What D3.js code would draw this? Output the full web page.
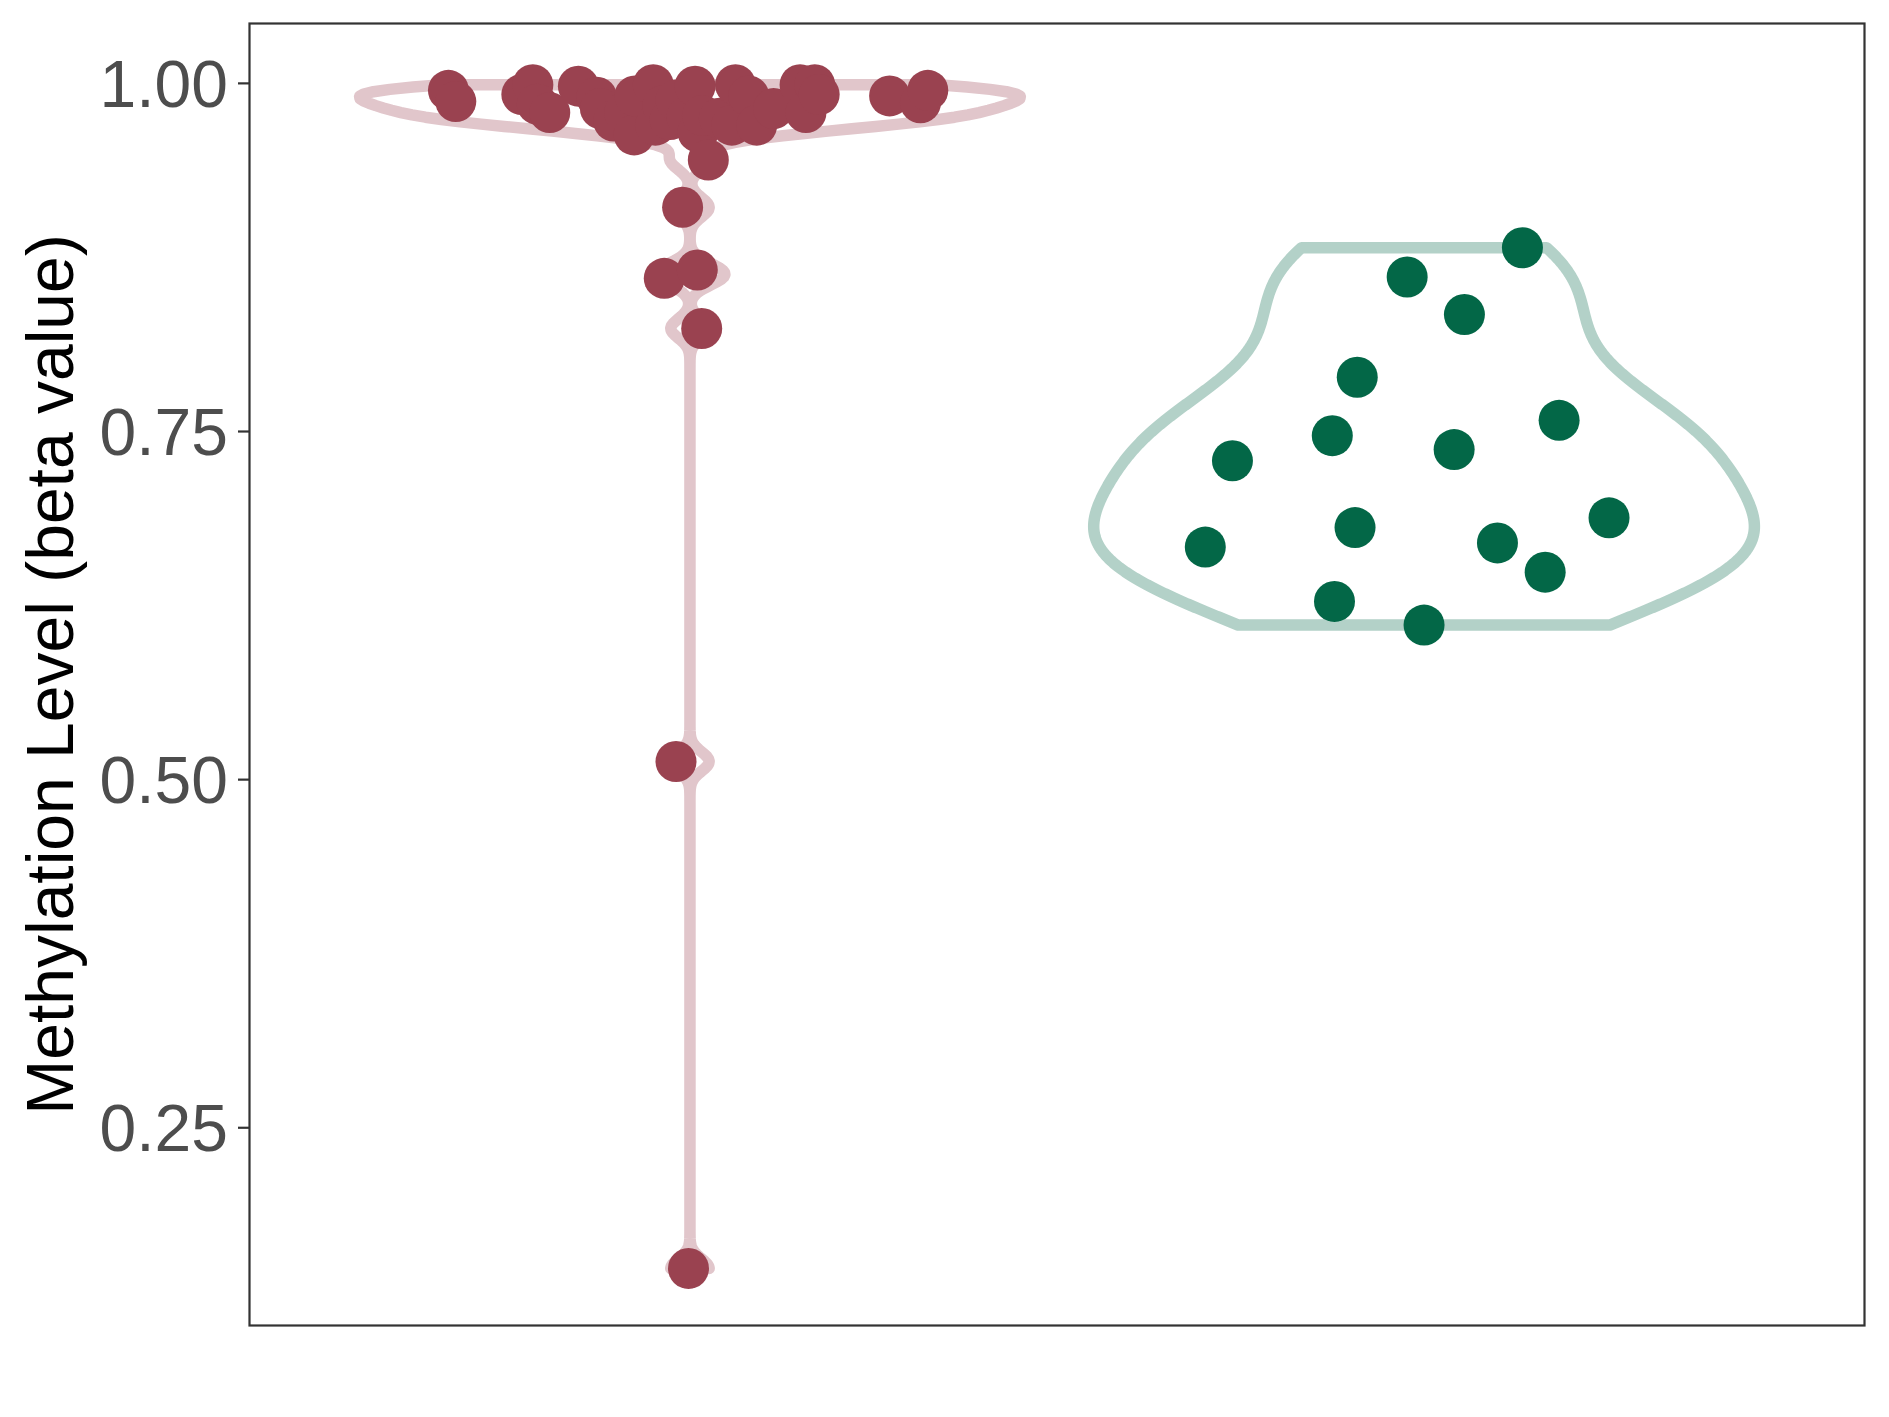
<!DOCTYPE html>
<html><head><meta charset="utf-8">
<script src="https://cdn.jsdelivr.net/npm/d3@7"></script>
<style>body{margin:0;background:#fff}</style>
</head><body>
<svg id="chart" width="1889" height="1417"></svg>
<script>
const groups = ["Group 1", "Group 2"];
const pointColors = ["#9A4250", "#036747"];
const outlineColors = ["#E1C6CB", "#B3D1C8"];
const group1Values = [0.995,0.987,0.992,0.999,0.985,0.979,0.998,0.990,0.982,0.973,0.979,0.963,0.991,0.999,0.970,0.984,0.974,0.988,0.976,0.998,0.965,0.977,0.945,0.975,0.999,0.970,0.991,0.970,0.982,0.999,0.979,0.999,0.992,0.991,0.986,0.995,0.911,0.860,0.866,0.824,0.513,0.149];
const group1Jitter = [-0.329,-0.319,-0.229,-0.214,-0.208,-0.191,-0.152,-0.127,-0.122,-0.104,-0.089,-0.076,-0.075,-0.050,-0.047,-0.037,-0.027,-0.019,-0.004,0.007,0.011,0.017,0.025,0.040,0.062,0.057,0.080,0.091,0.114,0.150,0.158,0.170,0.176,0.272,0.314,0.324,-0.010,-0.035,0.010,0.016,-0.019,-0.002];
const group2Values = [0.882,0.861,0.834,0.789,0.758,0.747,0.729,0.737,0.688,0.681,0.667,0.670,0.649,0.628,0.611];
const group2Jitter = [0.134,-0.023,0.055,-0.091,0.184,-0.125,-0.261,0.041,0.252,-0.094,-0.298,0.100,0.165,-0.122,0.000];
const yTicks = [0.25, 0.50, 0.75, 1.00];
const yTickLabels = ["0.25", "0.50", "0.75", "1.00"];
const yTitle = "Methylation Level (beta value)";
const yDomain = [0.108, 1.043];

const panel = {left: 249.5, right: 1864.5, top: 23.5, bottom: 1325.5};
const svg = d3.select("#chart");
const font = "'Liberation Sans', Arial, Helvetica, sans-serif";

const x = d3.scalePoint().domain(groups).range([panel.left, panel.right]).padding(0.6);
const y = d3.scaleLinear().domain(yDomain).range([panel.bottom, panel.top]);
const step = x.step();

function q7(s, p) { const h = (s.length - 1) * p, lo = Math.floor(h); const hi = Math.min(lo + 1, s.length - 1); return s[lo] + (h - lo) * (s[hi] - s[lo]); }
function bwNrd0(v) {
  const s = v.slice().sort(d3.ascending);
  const sd = d3.deviation(v);
  const iqr = q7(s, 0.75) - q7(s, 0.25);
  let lo = Math.min(sd, iqr / 1.34);
  if (!lo) lo = sd || Math.abs(s[0]) || 1;
  return 0.9 * lo * Math.pow(v.length, -0.2);
}
function density(v) {
  const bw = bwNrd0(v);
  const [mn, mx] = d3.extent(v);
  const n = 512, pts = [];
  for (let i = 0; i < n; i++) {
    const t = mn + (mx - mn) * i / (n - 1);
    let d = 0;
    for (const val of v) { const z = (t - val) / bw; d += Math.exp(-0.5 * z * z); }
    pts.push([t, d]);
  }
  const m = d3.max(pts, p => p[1]);
  return pts.map(p => [p[0], p[1] / m]);
}

const data = [
  {g: groups[0], values: group1Values, jitter: group1Jitter, color: pointColors[0], outline: outlineColors[0]},
  {g: groups[1], values: group2Values, jitter: group2Jitter, color: pointColors[1], outline: outlineColors[1]}
];

const line = d3.line();
const halfW = 0.45 * step;
data.forEach(d => {
  const cx = x(d.g);
  const dens = density(d.values);
  const right = dens.map(p => [cx + p[1] * halfW, y(p[0])]);
  const left = dens.slice().reverse().map(p => [cx - p[1] * halfW, y(p[0])]);
  svg.append("path")
    .attr("d", line(right.concat(left)) + "Z")
    .attr("fill", "#ffffff")
    .attr("stroke", d.outline)
    .attr("stroke-width", 11.5)
    .attr("stroke-linejoin", "round");
});
data.forEach(d => {
  const cx = x(d.g);
  svg.append("g").selectAll("circle").data(d.values).join("circle")
    .attr("cx", (v, i) => cx + d.jitter[i] * step)
    .attr("cy", v => y(v))
    .attr("r", 20.5)
    .attr("fill", d.color);
});

// panel border
svg.append("rect")
  .attr("x", panel.left).attr("y", panel.top)
  .attr("width", panel.right - panel.left).attr("height", panel.bottom - panel.top)
  .attr("fill", "none").attr("stroke", "#333333").attr("stroke-width", 2.2);

// y axis ticks
const ax = svg.append("g");
yTicks.forEach((t, i) => {
  ax.append("line").attr("x1", panel.left - 11.5).attr("x2", panel.left)
    .attr("y1", y(t)).attr("y2", y(t)).attr("stroke", "#333333").attr("stroke-width", 2.2);
  ax.append("text").attr("x", panel.left - 21.5).attr("y", y(t))
    .attr("dy", "0.355em").attr("text-anchor", "end")
    .attr("font-family", font).attr("font-size", 66).attr("fill", "#4D4D4D")
    .text(yTickLabels[i]);
});

svg.append("text")
  .attr("transform", `translate(73,${(panel.top + panel.bottom) / 2}) rotate(-90)`)
  .attr("text-anchor", "middle")
  .attr("font-family", font).attr("font-size", 66).attr("fill", "#000000")
  .text(yTitle);
</script>
</body></html>
